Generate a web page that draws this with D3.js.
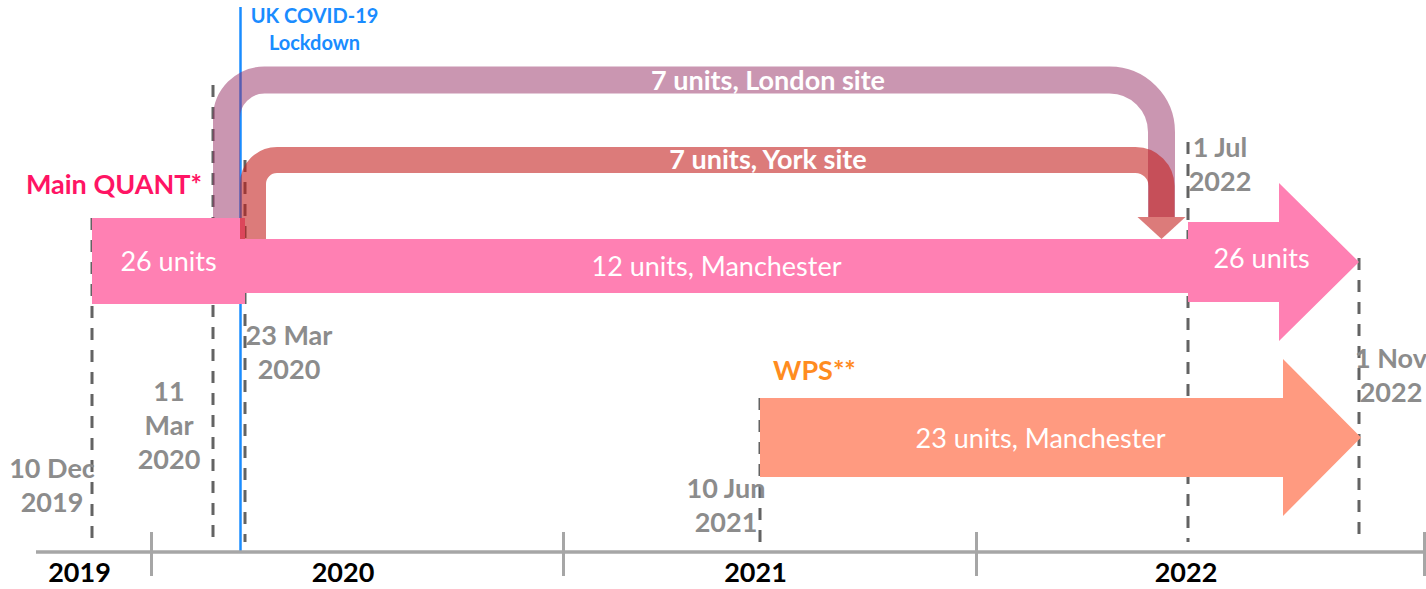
<!DOCTYPE html>
<html>
<head>
<meta charset="utf-8">
<script src="https://cdn.jsdelivr.net/npm/d3@7"></script>
<style>
  html, body { margin: 0; padding: 0; background: #ffffff; }
  svg { display: block; font-family: Lato, "Open Sans", sans-serif; }
</style>
</head>
<body>
<svg id="chart" width="1426" height="589"></svg>
<script>
// ---------------- DATA ----------------
const eventDates  = ["2019-12-10", "2020-03-11", "2020-03-23", "2021-06-10", "2022-07-01", "2022-11-01"];
const eventLabels = [["10 Dec", "2019"], ["11", "Mar", "2020"], ["23 Mar", "2020"], ["10 Jun", "2021"], ["1 Jul", "2022"], ["1 Nov", "2022"]];
const years = [2019, 2020, 2021, 2022];

// main phases (bars / arrows)
const phaseLabels = ["26 units", "12 units, Manchester", "26 units", "23 units, Manchester"];
const phaseUnits  = [26, 12, 26, 23];
const phaseStart  = ["2019-12-10", "2020-03-23", "2022-07-01", "2021-06-10"];
const phaseEnd    = ["2020-03-23", "2022-07-01", "2022-11-01", "2022-11-01"];

// transfers to other sites (curved arrows)
const transferLabels = ["7 units, London site", "7 units, York site"];
const transferUnits  = [7, 7];
const transferStart  = ["2020-03-11", "2020-03-23"];
const transferEnd    = ["2022-07-01", "2022-07-01"];

const lockdownDate  = "2020-03-23";
const lockdownLabel = ["UK COVID-19", "Lockdown"];
const studyLabels   = ["Main QUANT*", "WPS**"];

// ---------------- LAYOUT / STYLE ----------------
const W = 1426, H = 589;
const parse = d3.timeParse("%Y-%m-%d");
const svg = d3.select("#chart");

// schematic (piecewise) time scale of the drawing
const xDomain = ["2019-10-15", "2019-12-10", "2020-01-01", "2020-03-11", "2020-03-23", "2021-01-01",
                 "2021-06-10", "2022-01-01", "2022-07-01", "2022-11-01", "2023-01-01"].map(parse);
const xRange  = [36, 92, 151, 213, 245, 563, 760, 976, 1188, 1359, 1424];
const x = d3.scaleTime().domain(xDomain).range(xRange);

const axisY = 552;
const pink = "#ff80b3", salmon = "#ff9a80";
const grey = "#8c8c8c", dashCol = "#636363";
const blue = "#1a8cff";
const fs = 27;

// ---------------- EVENT DASHED LINES ----------------
const lineTop   = [218, 85, 160, 398, 142, 258];
const labelDx   = [-40, -44, 44, -34, 32, 32];
const labelY0   = [478, 401, 345, 498, 157, 368];
const lineH = 34;

svg.append("g").selectAll("line")
  .data(eventDates)
  .join("line")
  .attr("x1", d => x(parse(d))).attr("x2", d => x(parse(d)))
  .attr("y1", (d, i) => lineTop[i]).attr("y2", axisY - 10)
  .attr("stroke", dashCol).attr("stroke-width", 3)
  .attr("stroke-dasharray", "12,10");

// lockdown line
const xl = x(parse(lockdownDate)) - 4.5;
svg.append("line")
  .attr("x1", xl).attr("x2", xl).attr("y1", 7).attr("y2", axisY)
  .attr("stroke", blue).attr("stroke-width", 2.5);

// ---------------- AXIS ----------------
const boundaries = [2020, 2021, 2022, 2023].map(y => new Date(y, 0, 1));
const axis = d3.axisBottom(x).tickValues(boundaries).tickSize(24).tickSizeOuter(0).tickFormat("");
const gAxis = svg.append("g").attr("transform", `translate(0,${axisY})`).call(axis);
gAxis.select(".domain").attr("stroke", "#a6a6a6").attr("stroke-width", 3.5)
  .attr("d", `M${xRange[0]},0H${W}`);
gAxis.selectAll(".tick line").attr("stroke", "#a6a6a6").attr("stroke-width", 3).attr("y1", -20).attr("y2", 24);

const yearEdges = [xDomain[0], ...boundaries];
svg.append("g").selectAll("text")
  .data(years)
  .join("text")
  .attr("x", (d, i) => (x(yearEdges[i]) + x(yearEdges[i + 1])) / 2 - 14)
  .attr("y", 582)
  .attr("text-anchor", "middle")
  .attr("font-weight", 700).attr("font-size", fs).attr("fill", "#000")
  .text(d => d);

// ---------------- BARS / ARROWS ----------------
function arrowPoints(x0, xTip, cy, shaftH, headH, headLen) {
  const xb = xTip - headLen;
  return [[x0, cy - shaftH / 2], [xb, cy - shaftH / 2], [xb, cy - headH / 2], [xTip, cy],
          [xb, cy + headH / 2], [xb, cy + shaftH / 2], [x0, cy + shaftH / 2]];
}
const phaseShape = [
  { type: "rect",  cy: 261,   h: 86, color: pink,   textDx: 0,   textDy: 10 },
  { type: "rect",  cy: 266,   h: 54, color: pink,   textDx: 0,   textDy: 10 },
  { type: "arrow", cy: 262,   h: 80, headH: 158, headLen: 80, tipDx: 0, color: pink,   textDx: -12, textDy: 6 },
  { type: "arrow", cy: 437.5, h: 79, headH: 157, headLen: 78, tipDx: 2, color: salmon, textDx: -19, textDy: 10 }
];
const gBars = svg.append("g");
phaseLabels.forEach((lab, i) => {
  const s = phaseShape[i];
  const x0 = x(parse(phaseStart[i])), x1 = x(parse(phaseEnd[i]));
  if (s.type === "rect") {
    gBars.append("rect").attr("x", x0).attr("y", s.cy - s.h / 2)
      .attr("width", x1 - x0).attr("height", s.h).attr("fill", s.color);
  } else {
    gBars.append("polygon")
      .attr("points", arrowPoints(x0, x1 + s.tipDx, s.cy, s.h, s.headH, s.headLen).join(" "))
      .attr("fill", s.color);
  }
  gBars.append("text")
    .attr("x", (x0 + x1) / 2 + s.textDx).attr("y", s.cy + s.textDy)
    .attr("text-anchor", "middle").attr("font-size", fs).attr("fill", "#fff")
    .text(lab);
});

// ---------------- TRANSFER ARCS ----------------
const arcShape = [
  { left: 0,  width: 27, yt: 80,  rL: 38, rR: 52, ybl: 218, ybr: 217, color: "rgba(150,45,100,0.5)", arrow: false, ty: 90 },
  { left: 27, width: 26, yt: 160, rL: 24, rR: 26, ybl: 239, ybr: 217, color: "rgba(195,28,26,0.58)", arrow: true,  ty: 169 }
];
const gArc = svg.append("g");
transferLabels.forEach((lab, i) => {
  const a = arcShape[i];
  const xL = x(parse(transferStart[0])) + a.left + a.width / 2;
  const xR = x(parse(transferEnd[i])) - 26.5;
  const p = `M${xL},${a.ybl} V${a.yt + a.rL} A${a.rL},${a.rL} 0 0 1 ${xL + a.rL},${a.yt}` +
            ` H${xR - a.rR} A${a.rR},${a.rR} 0 0 1 ${xR},${a.yt + a.rR} V${a.ybr}`;
  gArc.append("path").attr("d", p).attr("fill", "none")
    .attr("stroke", a.color).attr("stroke-width", a.width);
  if (a.arrow) {
    gArc.append("polygon")
      .attr("points", [[xR - 24, a.ybr], [xR + 24, a.ybr], [xR, a.ybl]].join(" "))
      .attr("fill", a.color);
  }
  gArc.append("text")
    .attr("x", 768).attr("y", a.ty)
    .attr("text-anchor", "middle").attr("font-size", fs).attr("font-weight", 700).attr("fill", "#fff")
    .text(lab);
});

// ---------------- EVENT LABELS ----------------
const gLab = svg.append("g");
eventLabels.forEach((lines, i) => {
  const cx = x(parse(eventDates[i])) + labelDx[i];
  const t = gLab.append("text").attr("text-anchor", "middle")
    .attr("font-size", fs).attr("font-weight", 700).attr("fill", grey);
  lines.forEach((ln, j) => {
    t.append("tspan").attr("x", cx).attr("y", labelY0[i] + j * lineH).text(ln);
  });
});

// lockdown label
const tl = svg.append("text").attr("text-anchor", "middle")
  .attr("font-size", 20).attr("font-weight", 700).attr("fill", blue);
lockdownLabel.forEach((ln, j) => tl.append("tspan").attr("x", xl + 74).attr("y", 23 + j * 27).text(ln));

// study labels
svg.append("text").attr("x", x(parse(transferStart[0])) - 11).attr("y", 194)
  .attr("text-anchor", "end").attr("font-size", fs).attr("font-weight", 700).attr("fill", "#ff1464")
  .text(studyLabels[0]);
svg.append("text").attr("x", x(parse(phaseStart[3])) + 13).attr("y", 380)
  .attr("font-size", fs).attr("font-weight", 700).attr("fill", "#ff8c1f")
  .text(studyLabels[1]);
</script>
</body>
</html>
